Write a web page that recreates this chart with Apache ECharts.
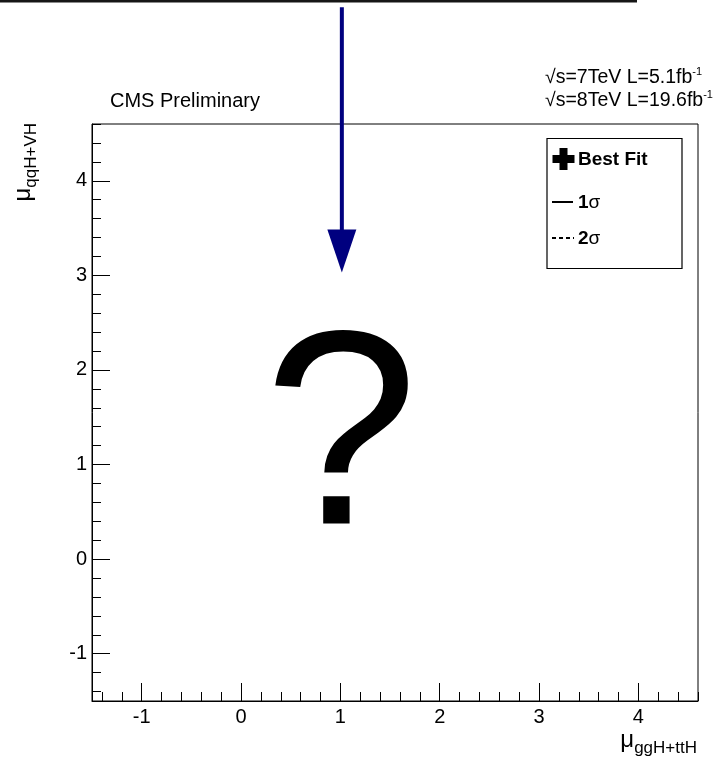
<!DOCTYPE html>
<html>
<head>
<meta charset="utf-8">
<script src="https://cdn.jsdelivr.net/npm/echarts@6/dist/echarts.min.js"></script>
<style>
  html, body { margin: 0; padding: 0; background: #fff; }
  #chart { width: 721px; height: 762px; }
</style>
</head>
<body>
<div id="chart"></div>
<script>
// Axis ranges and labelled ticks
const xRange = [-1.5, 4.6];
const yRange = [-1.5, 4.6];
const xMajorTicks = [-1, 0, 1, 2, 3, 4];
const yMajorTicks = [-1, 0, 1, 2, 3, 4];
const minorStep = 0.2;

// Pointer arrow: x position, tail y (above the frame) and tip y
const arrowX = [1.015];
const arrowTailY = [5.835];
const arrowTipY = [3.03];

// Text content
const experimentLabel = 'CMS Preliminary';
const lumiLines = [['√s=7TeV L=5.1fb', '-1'], ['√s=8TeV L=19.6fb', '-1']];
const legendLabels = [['Best Fit', ''], ['1', 'σ'], ['2', 'σ']];
const xTitle = ['μ', 'ggH+ttH'];
const yTitle = ['μ', 'qqH+VH'];

const FONT = '"Liberation Sans", Arial, Helvetica, sans-serif';

function minorTicks(range, majors) {
  const out = [];
  const start = Math.ceil(range[0] / minorStep - 1e-9);
  for (let k = start; k * minorStep <= range[1] + 1e-9; k++) {
    const v = Math.round(k * minorStep * 10) / 10;
    if (!majors.includes(v)) out.push(v);
  }
  return out;
}

function axisPair(kind, range, majors) {
  const common = {
    type: 'value', gridIndex: 0, min: range[0], max: range[1],
    position: kind === 'x' ? 'bottom' : 'left',
    splitLine: { show: false }, splitArea: { show: false }
  };
  return [
    Object.assign({}, common, {
      axisLine: { show: true, onZero: false, lineStyle: { color: '#000', width: 1 } },
      axisTick: { show: true, inside: true, length: 18, customValues: majors,
                  lineStyle: { color: '#000', width: 1 } },
      axisLabel: { show: true, customValues: majors, color: '#000', fontSize: 20,
                   fontFamily: FONT, margin: kind === 'x' ? 6 : 5 }
    }),
    Object.assign({}, common, {
      axisLine: { show: false, onZero: false },
      axisTick: { show: true, inside: true, length: 9, customValues: minorTicks(range, majors),
                  lineStyle: { color: '#000', width: 1 } },
      axisLabel: { show: false }
    })
  ];
}

function titleRich() {
  return {
    mu: { fontSize: 24, lineHeight: 24, fontFamily: FONT, fill: '#000', verticalAlign: 'top' },
    sub: { fontSize: 17, lineHeight: 17, fontFamily: FONT, fill: '#000', verticalAlign: 'top',
           padding: [12, 0, 0, 0] }
  };
}

const lumiRich = {
  n: { fontSize: 19.5, lineHeight: 19, fontFamily: FONT, fill: '#000', verticalAlign: 'top' },
  sup: { fontSize: 11, lineHeight: 11, fontFamily: FONT, fill: '#000', verticalAlign: 'top',
         padding: [-2, 0, 0, 0] }
};

const legendRich = {
  b: { fontSize: 19, fontWeight: 'bold', fontFamily: FONT, fill: '#000' },
  r: { fontSize: 19, fontFamily: FONT, fill: '#000' }
};

// thick plus marker outline, relative to its centre
function crossPoints(cx, cy, arm, half) {
  return [
    [-half, -arm], [half, -arm], [half, -half], [arm, -half], [arm, half], [half, half],
    [half, arm], [-half, arm], [-half, half], [-arm, half], [-arm, -half], [-half, -half]
  ].map(p => [cx + p[0], cy + p[1]]);
}

const legendRows = [159, 202, 238];

const graphics = [
  // rule along the very top edge
  { type: 'line', shape: { x1: 0, y1: 1.2, x2: 637, y2: 1.2 },
    style: { stroke: '#161616', lineWidth: 2.6 }, silent: true },
  // experiment label
  { type: 'text', x: 110, y: 101,
    style: { text: experimentLabel, font: '20px ' + FONT, fill: '#000',
             align: 'left', verticalAlign: 'middle', textAlign: 'left', textVerticalAlign: 'middle' } },
  // luminosity lines
  ...lumiLines.map((l, i) => ({
    type: 'text', x: 545, y: 68 + i * 23,
    style: { text: '{n|' + l[0] + '}{sup|' + l[1] + '}', rich: lumiRich,
             align: 'left', verticalAlign: 'top', textAlign: 'left', textVerticalAlign: 'top' }
  })),
  // legend frame
  { type: 'rect', shape: { x: 547, y: 138.5, width: 135, height: 130 },
    style: { fill: '#fff', stroke: '#000', lineWidth: 1.2 }, z: 10 },
  { type: 'polygon', z: 11, shape: { points: crossPoints(563.5, legendRows[0], 11, 4) },
    style: { fill: '#000' } },
  { type: 'line', z: 11, shape: { x1: 552, y1: legendRows[1], x2: 573, y2: legendRows[1] },
    style: { stroke: '#000', lineWidth: 2 } },
  { type: 'line', z: 11, shape: { x1: 552, y1: legendRows[2], x2: 574, y2: legendRows[2] },
    style: { stroke: '#000', lineWidth: 2, lineDash: [4, 3] } },
  ...legendLabels.map((l, i) => ({
    type: 'text', x: 578, y: legendRows[i] + 1, z: 11,
    style: { text: '{b|' + l[0] + '}' + (l[1] ? '{r|' + l[1] + '}' : ''), rich: legendRich,
             align: 'left', verticalAlign: 'middle', textAlign: 'left', textVerticalAlign: 'middle' }
  })),
  // axis titles
  { type: 'text', x: 697, y: 728,
    style: { text: '{mu|' + xTitle[0] + '}{sub|' + xTitle[1] + '}', rich: titleRich(),
             align: 'right', verticalAlign: 'top', textAlign: 'right', textVerticalAlign: 'top' } },
  { type: 'text', x: 11, y: 123, rotation: Math.PI / 2,
    style: { text: '{mu|' + yTitle[0] + '}{sub|' + yTitle[1] + '}', rich: titleRich(),
             align: 'right', verticalAlign: 'top', textAlign: 'right', textVerticalAlign: 'top' } },
  // question mark over the plot
  { type: 'text', x: 341, y: 447, z: 5,
    style: { text: '?', font: '277px ' + FONT, fill: '#000',
             align: 'center', verticalAlign: 'middle', textAlign: 'center', textVerticalAlign: 'middle' } }
];

const chart = echarts.init(document.getElementById('chart'), null, { renderer: 'canvas' });
chart.setOption({
  animation: false,
  backgroundColor: '#fff',
  grid: { left: 92, right: 23, top: 124, bottom: 61, show: true,
          borderColor: '#000', borderWidth: 1, backgroundColor: 'transparent' },
  xAxis: axisPair('x', xRange, xMajorTicks),
  yAxis: axisPair('y', yRange, yMajorTicks),
  series: [{
    type: 'custom', name: 'pointer', xAxisIndex: 0, yAxisIndex: 0, clip: false, silent: true,
    data: arrowX.map((x, i) => [x, arrowTailY[i], arrowTipY[i]]),
    encode: { x: 0, y: [1, 2] },
    renderItem(params, api) {
      const tail = api.coord([api.value(0), api.value(1)]);
      const tip = api.coord([api.value(0), api.value(2)]);
      const headLen = 43, halfW = 14.5;
      const baseY = tip[1] - headLen;
      return {
        type: 'group',
        children: [
          { type: 'line', shape: { x1: tail[0], y1: tail[1], x2: tip[0], y2: baseY + 1 },
            style: { stroke: '#00007f', lineWidth: 4 } },
          { type: 'polygon',
            shape: { points: [[tip[0] - halfW, baseY], [tip[0] + halfW, baseY], [tip[0], tip[1]]] },
            style: { fill: '#00007f' } }
        ]
      };
    }
  }],
  graphic: graphics
});
</script>
</body>
</html>
